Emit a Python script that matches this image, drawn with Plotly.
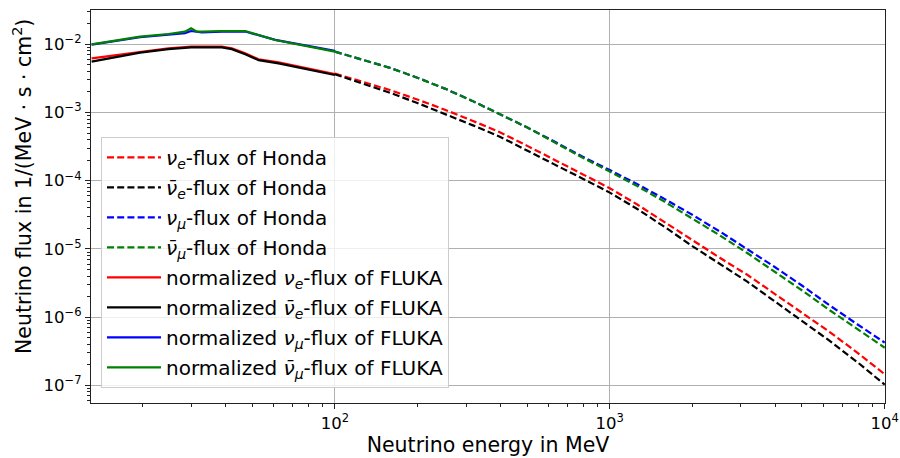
import plotly.graph_objects as go

# Honda flux tables (energy in MeV, flux in 1/(MeV s cm^2))
honda_energy = [100, 125.9, 158.5, 199.5, 251.2, 316.2, 398.1, 501.2, 631.0, 794.3,
                1000, 1259, 1585, 1995, 2512, 3162, 3981, 5012, 6310, 7943, 10000]
honda_nue = [3.72e-3, 2.85e-3, 2.14e-3, 1.55e-3, 1.10e-3, 7.59e-4, 5.13e-4, 3.24e-4, 2.00e-4, 1.26e-4,
             7.76e-5, 4.47e-5, 2.45e-5, 1.32e-5, 7.41e-6, 4.17e-6, 2.19e-6, 1.15e-6, 6.03e-7, 3.02e-7, 1.45e-7]
honda_nuebar = [3.63e-3, 2.69e-3, 1.95e-3, 1.38e-3, 9.55e-4, 6.53e-4, 4.42e-4, 2.79e-4, 1.72e-4, 1.08e-4,
                6.68e-5, 3.85e-5, 2.09e-5, 1.10e-5, 6.03e-6, 3.31e-6, 1.70e-6, 8.71e-7, 4.47e-7, 2.19e-7, 1.02e-7]
honda_numu = [7.80e-3, 6.00e-3, 4.52e-3, 3.24e-3, 2.24e-3, 1.48e-3, 9.55e-4, 6.03e-4, 3.72e-4, 2.26e-4,
              1.43e-4, 8.91e-5, 5.37e-5, 3.16e-5, 1.80e-5, 1.00e-5, 5.43e-6, 2.88e-6, 1.48e-6, 7.85e-7, 4.22e-7]
honda_numubar = [7.80e-3, 6.00e-3, 4.52e-3, 3.24e-3, 2.24e-3, 1.48e-3, 9.55e-4, 6.03e-4, 3.63e-4, 2.19e-4,
                 1.36e-4, 8.32e-5, 4.90e-5, 2.82e-5, 1.58e-5, 8.71e-6, 4.68e-6, 2.45e-6, 1.26e-6, 6.61e-7, 3.55e-7]

# normalized FLUKA fluxes at low energies
fluka_e_energy = [13.04, 16.31, 19.56, 24.8, 30.0, 38.8, 42.2, 47.2, 52.8, 62.4, 100]
fluka_nue = [6.22e-3, 6.97e-3, 7.80e-3, 8.72e-3, 9.23e-3, 9.23e-3, 8.72e-3, 7.37e-3, 6.02e-3, 5.44e-3, 3.67e-3]
fluka_nuebar = [5.56e-3, 6.51e-3, 7.54e-3, 8.50e-3, 9.00e-3, 9.00e-3, 8.50e-3, 7.15e-3, 5.85e-3, 5.26e-3, 3.55e-3]

fluka_mu_energy = [13.04, 16.31, 19.56, 24.8, 26.98, 28.5, 30.0, 31.5, 32.8, 38.8, 47.2, 60.7, 100]
fluka_numu = [9.9e-3, 1.14e-2, 1.27e-2, 1.39e-2, 1.416e-2, 1.46e-2, 1.567e-2, 1.51e-2, 1.50e-2,
              1.53e-2, 1.54e-2, 1.16e-2, 8.0e-3]
fluka_numubar = [1.00e-2, 1.16e-2, 1.294e-2, 1.416e-2, 1.482e-2, 1.53e-2, 1.714e-2, 1.53e-2, 1.53e-2,
                 1.567e-2, 1.567e-2, 1.156e-2, 7.8e-3]

x_tick_vals = [100, 1000, 10000]
x_tick_text = ["10<sup>2</sup>", "10<sup>3</sup>", "10<sup>4</sup>"]
y_tick_vals = [1e-7, 1e-6, 1e-5, 1e-4, 1e-3, 1e-2]
y_tick_text = ["10<sup>\u22127</sup>", "10<sup>\u22126</sup>", "10<sup>\u22125</sup>",
               "10<sup>\u22124</sup>", "10<sup>\u22123</sup>", "10<sup>\u22122</sup>"]

NUE = "<i>\u03bd</i><sub><i>e</i></sub>"
NUEBAR = "<i>\u03bd\u0304</i><sub><i>e</i></sub>"
NUMU = "<i>\u03bd</i><sub><i>\u03bc</i></sub>"
NUMUBAR = "<i>\u03bd\u0304</i><sub><i>\u03bc</i></sub>"

RED, BLACK, BLUE, GREEN = "#ff0000", "#000000", "#0000ff", "#008000"
DASH = "7px,3.2px"

fig = go.Figure()

series = [
    (honda_energy, honda_nue, RED, DASH, NUE + "-flux of Honda"),
    (honda_energy, honda_nuebar, BLACK, DASH, NUEBAR + "-flux of Honda"),
    (honda_energy, honda_numu, BLUE, DASH, NUMU + "-flux of Honda"),
    (honda_energy, honda_numubar, GREEN, DASH, NUMUBAR + "-flux of Honda"),
    (fluka_e_energy, fluka_nue, RED, "solid", "normalized " + NUE + "-flux of FLUKA"),
    (fluka_e_energy, fluka_nuebar, BLACK, "solid", "normalized " + NUEBAR + "-flux of FLUKA"),
    (fluka_mu_energy, fluka_numu, BLUE, "solid", "normalized " + NUMU + "-flux of FLUKA"),
    (fluka_mu_energy, fluka_numubar, GREEN, "solid", "normalized " + NUMUBAR + "-flux of FLUKA"),
]
for i, (xs, ys, color, dash, name) in enumerate(series):
    fig.add_trace(go.Scatter(
        x=xs, y=ys, mode="lines", name=name, legendgroup=f"g{i}",
        line=dict(color=color, width=2.2, dash=dash),
    ))

FONT = "DejaVu Sans"
axis_common = dict(
    type="log", automargin=False,
    showline=True, linecolor="#222222", linewidth=1.2, mirror=True,
    ticks="outside", ticklen=5, tickwidth=1, tickcolor="#222222",
    showgrid=True, gridcolor="#b0b0b0", gridwidth=1,
    zeroline=False,
    tickfont=dict(family=FONT, size=16.5, color="black"),
    tickmode="array",
    minor=dict(ticks="outside", ticklen=2.5, tickwidth=0.8, tickcolor="#222222",
               showgrid=False, dtick="D1"),
)

fig.update_layout(
    width=900, height=458,
    margin=dict(l=91, r=15, t=10, b=55),
    paper_bgcolor="white", plot_bgcolor="white",
    font=dict(family=FONT, color="black"),
    xaxis=dict(axis_common, range=[1.113, 4.001], tickvals=x_tick_vals, ticktext=x_tick_text,
               title=dict(text="Neutrino energy in MeV", font=dict(family=FONT, size=20.5),
                          standoff=4)),
    yaxis=dict(axis_common, range=[-7.26, -1.497], tickvals=y_tick_vals, ticktext=y_tick_text),
    legend=dict(
        x=0.0126, y=0.677, xanchor="left", yanchor="top",
        bgcolor="rgba(255,255,255,0.8)", bordercolor="#cccccc", borderwidth=1,
        font=dict(family=FONT, size=20), tracegroupgap=1, itemwidth=54,
    ),
    showlegend=True,
    annotations=[dict(
        text="Neutrino flux in 1/(MeV \u22c5 s \u22c5 cm<sup>2</sup>)",
        textangle=-90, xref="paper", yref="paper",
        x=(22 - 91) / 794, y=(403 - 187) / 393, xanchor="center", yanchor="middle",
        showarrow=False, font=dict(family=FONT, size=20.5),
    )],
)

fig.write_html("out.html")
